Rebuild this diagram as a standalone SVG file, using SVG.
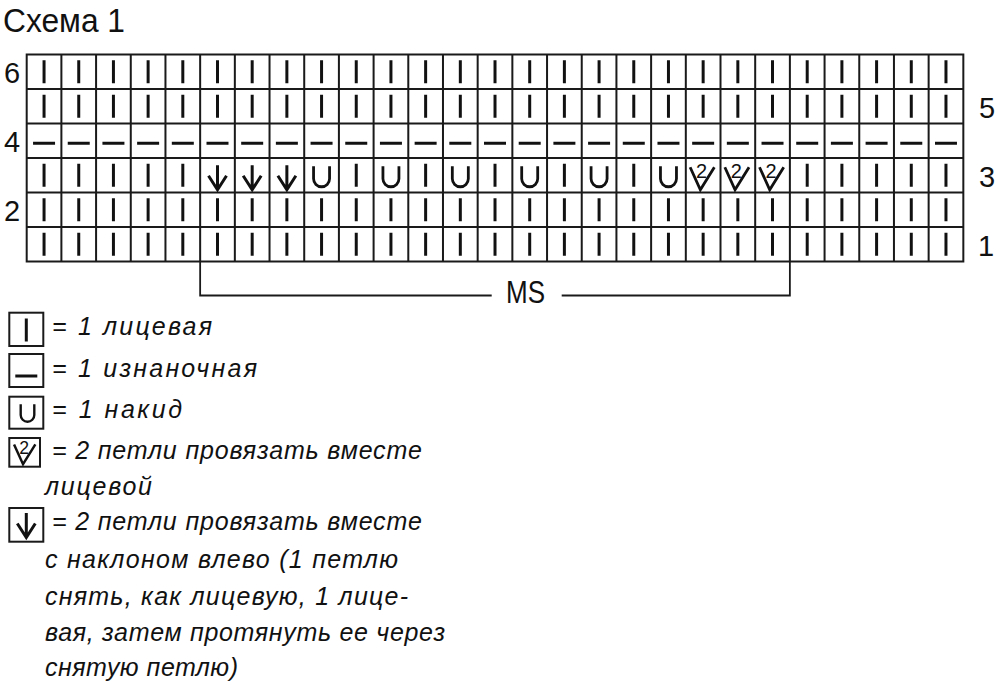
<svg xmlns="http://www.w3.org/2000/svg" xmlns:xlink="http://www.w3.org/1999/xlink" width="1000" height="697" viewBox="0 0 1000 697">
<style>
  .grid { fill: none; stroke: #1a1a1a; stroke-width: 2; }
  .sym { fill: none; stroke: #111; stroke-width: 3; stroke-linecap: butt; stroke-linejoin: miter; }
  .thin { fill: none; stroke: #111; stroke-width: 2.8; }
  .br { fill: none; stroke: #1a1a1a; stroke-width: 1.8; }
  .title { font-family: "Liberation Sans", Arial, sans-serif; font-size: 34px; fill: #111; }
  .num { font-family: "Liberation Sans", Arial, sans-serif; font-size: 29px; fill: #111; text-anchor: middle; }
  .ms { font-family: "Liberation Sans", Arial, sans-serif; font-size: 31px; fill: #111; }
  .leg { font-family: "Liberation Sans", Arial, sans-serif; font-size: 25px; font-style: italic; fill: #111; }
  .box { fill: #fff; stroke: #1a1a1a; stroke-width: 2; }
</style>
<defs>
  <g id="k"><line class="sym" x1="0" y1="-11.5" x2="0" y2="11.5"/></g>
  <g id="p"><line class="sym" x1="-11" y1="2.5" x2="11" y2="2.5"/></g>
  <g id="yo"><path class="thin" d="M-8,-9 V3.5 A8,8 0 0 0 8,3.5 V-9"/></g>
  <g id="ssk"><path class="sym" d="M0,-10 V14.5 M-9,0.5 L0,14.5 L9,0.5"/></g>
  <g id="k2tog"><path class="thin" d="M-13,-8 L-2.8,14.5 L11.2,-8"/><text x="-1.5" y="2.5" font-family="Liberation Sans, Arial, sans-serif" font-size="20" fill="#111" text-anchor="middle">2</text></g>
  <g id="krow">
    <use xlink:href="#k" x="44.05"/><use xlink:href="#k" x="78.74"/><use xlink:href="#k" x="113.43"/><use xlink:href="#k" x="148.12"/><use xlink:href="#k" x="182.81"/><use xlink:href="#k" x="217.50"/><use xlink:href="#k" x="252.18"/><use xlink:href="#k" x="286.87"/><use xlink:href="#k" x="321.56"/><use xlink:href="#k" x="356.25"/><use xlink:href="#k" x="390.94"/><use xlink:href="#k" x="425.63"/><use xlink:href="#k" x="460.32"/><use xlink:href="#k" x="495.01"/><use xlink:href="#k" x="529.70"/><use xlink:href="#k" x="564.39"/><use xlink:href="#k" x="599.08"/><use xlink:href="#k" x="633.77"/><use xlink:href="#k" x="668.46"/><use xlink:href="#k" x="703.15"/><use xlink:href="#k" x="737.84"/><use xlink:href="#k" x="772.52"/><use xlink:href="#k" x="807.21"/><use xlink:href="#k" x="841.90"/><use xlink:href="#k" x="876.59"/><use xlink:href="#k" x="911.28"/><use xlink:href="#k" x="945.97"/>
  </g>
  <g id="prow">
    <use xlink:href="#p" x="44.05"/><use xlink:href="#p" x="78.74"/><use xlink:href="#p" x="113.43"/><use xlink:href="#p" x="148.12"/><use xlink:href="#p" x="182.81"/><use xlink:href="#p" x="217.50"/><use xlink:href="#p" x="252.18"/><use xlink:href="#p" x="286.87"/><use xlink:href="#p" x="321.56"/><use xlink:href="#p" x="356.25"/><use xlink:href="#p" x="390.94"/><use xlink:href="#p" x="425.63"/><use xlink:href="#p" x="460.32"/><use xlink:href="#p" x="495.01"/><use xlink:href="#p" x="529.70"/><use xlink:href="#p" x="564.39"/><use xlink:href="#p" x="599.08"/><use xlink:href="#p" x="633.77"/><use xlink:href="#p" x="668.46"/><use xlink:href="#p" x="703.15"/><use xlink:href="#p" x="737.84"/><use xlink:href="#p" x="772.52"/><use xlink:href="#p" x="807.21"/><use xlink:href="#p" x="841.90"/><use xlink:href="#p" x="876.59"/><use xlink:href="#p" x="911.28"/><use xlink:href="#p" x="945.97"/>
  </g>
</defs>
<rect width="1000" height="697" fill="#fff"/>

<g id="title"><text class="title" x="3" y="31.5" textLength="122" lengthAdjust="spacingAndGlyphs">Схема 1</text></g>

<g id="chart-grid">
  <rect class="grid" x="26.7" y="54.5" width="936.63" height="207"/>
  <path class="grid" d="M61.39,54.5V261.5M96.08,54.5V261.5M130.77,54.5V261.5M165.46,54.5V261.5M200.15,54.5V261.5M234.84,54.5V261.5M269.53,54.5V261.5M304.22,54.5V261.5M338.91,54.5V261.5M373.6,54.5V261.5M408.29,54.5V261.5M442.98,54.5V261.5M477.67,54.5V261.5M512.36,54.5V261.5M547.05,54.5V261.5M581.74,54.5V261.5M616.43,54.5V261.5M651.12,54.5V261.5M685.81,54.5V261.5M720.5,54.5V261.5M755.19,54.5V261.5M789.88,54.5V261.5M824.57,54.5V261.5M859.26,54.5V261.5M893.95,54.5V261.5M928.64,54.5V261.5M26.7,89H963.33M26.7,123.5H963.33M26.7,158H963.33M26.7,192.5H963.33M26.7,227H963.33"/>
</g>

<g id="chart-stitches">
  <use id="row6" xlink:href="#krow" y="71.75"/>
  <use id="row5" xlink:href="#krow" y="106.25"/>
  <use id="row4" xlink:href="#prow" y="140.75"/>
  <g id="row3">
    <use xlink:href="#k" x="44.05" y="175.25"/><use xlink:href="#k" x="78.74" y="175.25"/><use xlink:href="#k" x="113.43" y="175.25"/><use xlink:href="#k" x="148.12" y="175.25"/><use xlink:href="#k" x="182.81" y="175.25"/>
    <use xlink:href="#ssk" x="217.50" y="175.25"/><use xlink:href="#ssk" x="252.18" y="175.25"/><use xlink:href="#ssk" x="286.87" y="175.25"/>
    <use xlink:href="#yo" x="321.56" y="175.25"/><use xlink:href="#k" x="356.25" y="175.25"/>
    <use xlink:href="#yo" x="390.94" y="175.25"/><use xlink:href="#k" x="425.63" y="175.25"/>
    <use xlink:href="#yo" x="460.32" y="175.25"/><use xlink:href="#k" x="495.01" y="175.25"/>
    <use xlink:href="#yo" x="529.70" y="175.25"/><use xlink:href="#k" x="564.39" y="175.25"/>
    <use xlink:href="#yo" x="599.08" y="175.25"/><use xlink:href="#k" x="633.77" y="175.25"/>
    <use xlink:href="#yo" x="668.46" y="175.25"/>
    <use xlink:href="#k2tog" x="703.15" y="175.25"/><use xlink:href="#k2tog" x="737.84" y="175.25"/><use xlink:href="#k2tog" x="772.52" y="175.25"/>
    <use xlink:href="#k" x="807.21" y="175.25"/><use xlink:href="#k" x="841.90" y="175.25"/><use xlink:href="#k" x="876.59" y="175.25"/><use xlink:href="#k" x="911.28" y="175.25"/><use xlink:href="#k" x="945.97" y="175.25"/>
  </g>
  <use id="row2" xlink:href="#krow" y="209.75"/>
  <use id="row1" xlink:href="#krow" y="244.25"/>
</g>

<g id="row-numbers">
  <text class="num" x="12" y="83">6</text>
  <text class="num" x="12" y="152">4</text>
  <text class="num" x="12" y="221">2</text>
  <text class="num" x="987" y="118">5</text>
  <text class="num" x="987" y="187">3</text>
  <text class="num" x="986" y="256">1</text>
</g>

<g id="ms-bracket">
  <path class="br" d="M200.15,261.5V295.5H491.7M561.7,295.5H789.88V261.5"/>
  <text class="ms" x="506" y="302.5" textLength="39" lengthAdjust="spacingAndGlyphs">MS</text>
</g>

<g id="legend-knit">
  <rect class="box" x="9.3" y="312.7" width="34" height="33.3"/>
  <use xlink:href="#k" x="26.3" y="330"/>
  <text class="leg" x="52" y="335" textLength="160" lengthAdjust="spacing">= 1 лицевая</text>
</g>
<g id="legend-purl">
  <rect class="box" x="9.3" y="354" width="34" height="33"/>
  <use xlink:href="#p" x="26.3" y="373.5"/>
  <text class="leg" x="52" y="376.7" textLength="205" lengthAdjust="spacing">= 1 изнаночная</text>
</g>
<g id="legend-yo">
  <rect class="box" x="9.3" y="396.7" width="34" height="32"/>
  <use xlink:href="#yo" transform="translate(27.5,412) scale(0.85)"/>
  <text class="leg" x="52" y="418" textLength="130" lengthAdjust="spacing">= 1 накид</text>
</g>
<g id="legend-k2tog">
  <rect class="box" x="9.3" y="438" width="30.7" height="28.7"/>
  <use xlink:href="#k2tog" transform="translate(25.5,451.5) scale(0.88)"/>
  <text class="leg" x="52" y="459" textLength="370" lengthAdjust="spacing">= 2 петли провязать вместе</text>
  <text class="leg" x="45" y="494.5" textLength="107" lengthAdjust="spacing">лицевой</text>
</g>
<g id="legend-ssk">
  <rect class="box" x="9.3" y="508" width="34" height="33.7"/>
  <use xlink:href="#ssk" x="26.3" y="523"/>
  <text class="leg" x="52" y="530" textLength="370" lengthAdjust="spacing">= 2 петли провязать вместе</text>
  <text class="leg" x="45" y="568" textLength="353" lengthAdjust="spacing">с наклоном влево (1 петлю</text>
  <text class="leg" x="45" y="605" textLength="363" lengthAdjust="spacing">снять, как лицевую, 1 лице-</text>
  <text class="leg" x="45" y="641" textLength="400" lengthAdjust="spacing">вая, затем протянуть ее через</text>
  <text class="leg" x="45" y="676" textLength="193" lengthAdjust="spacing">снятую петлю)</text>
</g>
</svg>
